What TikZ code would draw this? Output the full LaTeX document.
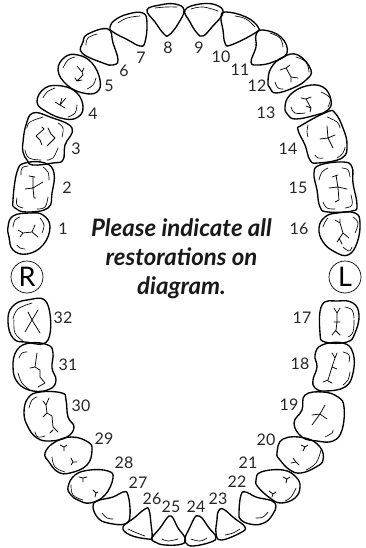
\documentclass[tikz,border=0pt]{standalone}
\usepackage{fontspec}
\setmainfont{Lato}
\newcommand{\tooth}[1]{\draw[toothline] plot[smooth cycle,tension=.72] coordinates {#1};}
\newcommand{\groove}[1]{\draw[grooveline] plot[smooth,tension=.7] coordinates {#1};}
\newcommand{\fis}[1]{\draw[fissure] #1;}
\tikzset{
 toothline/.style={line width=1.35pt,line join=round,black},
 grooveline/.style={line width=.65pt,line cap=round,black},
 fissure/.style={line width=.75pt,line cap=round,line join=round,black},
 num/.style={font=\fontsize{16}{16}\selectfont,text=black!85,inner sep=0pt},
 side/.style={circle,draw,line width=.7pt,minimum size=32pt,inner sep=0pt,font=\fontsize{27}{27}\selectfont},
 note/.style={font=\fontsize{24}{29}\selectfont\bfseries\itshape,inner sep=0pt,align=center,text=black!90}
}
\begin{document}
\begin{tikzpicture}[x=1pt,y=-1pt]
\useasboundingbox (0,0) rectangle (366,548);
\tooth{(147,10)(160,5)(175,4)(184,10)(178,24)(169,35)(164,34)(155,22)}
\groove{(155,8)(166,7)(177,7)}
\tooth{(185,10)(200,4)(216,5)(223,13)(212,27)(203,36)(197,33)(190,22)}
\groove{(191,9)(203,7)(218,11)}
\tooth{(110,27)(115,20)(128,14)(143,13)(147,23)(145,42)(140,46)(128,40)(113,32)}
\groove{(118,23)(127,18)(140,16)}
\tooth{(221,17)(226,12)(246,17)(258,27)(255,33)(231,45)(225,43)(223,30)}
\groove{(235,16)(246,19)(255,27)}
\tooth{(82,53)(83,42)(88,34)(108,29)(113,43)(118,60)(113,65)(103,63)}
\groove{(86,45)(88,38)(97,34)}
\tooth{(251,62)(256,47)(256,35)(263,30)(281,37)(287,53)(273,62)(258,65)}
\groove{(270,33)(280,38)(283,47)}
\tooth{(58,70)(65,57)(78,55)(92,63)(100,80)(97,92)(83,93)(67,85)}
\groove{(63,68)(68,60)(75,57)}\groove{(87,89)(93,85)(96,78)}
\fis{(77,66)--(82,72)--(83,75)--(77,81)--(75,78) (77,81)--(82,80) (82,72)--(84,68)}
\tooth{(268,82)(271,68)(283,57)(298,55)(311,70)(306,80)(293,88)(276,93)(270,88)}
\groove{(275,82)(278,88)(283,89)}\groove{(296,57)(306,62)(309,72)}
\fis{(280,70)--(286,68)--(291,77)--(291,82) (291,77)--(298,78) (286,68)--(290,65)}
\tooth{(37,102)(45,88)(62,86)(77,93)(83,107)(78,117)(65,119)(47,112)}
\groove{(43,98)(47,92)(55,88)}\groove{(68,117)(75,113)(77,105)}
\fis{(55,102)--(60,105)--(65,108) (60,105)--(62,98) (60,105)--(66,98)}
\tooth{(285,107)(290,95)(306,86)(323,87)(331,100)(328,110)(316,115)(296,119)(288,115)}
\groove{(291,107)(295,113)(305,113)}\groove{(321,92)(330,98)(328,107)}
\fis{(301,98)--(306,99)--(311,97) (306,99)--(311,108)--(310,112) (311,108)--(306,106)}
\tooth{(23,142)(26,125)(33,113)(50,117)(72,128)(65,145)(63,160)(53,163)(33,165)(27,160)(23,152)}
\groove{(27,128)(30,122)(43,117)}\groove{(58,123)(63,128)(62,137)}
\groove{(25,150)(29,158)(41,160)}\groove{(47,160)(53,158)(58,148)}
\fis{(36,136)--(44,129) (36,136)--(40,140)--(42,145) (48,128)--(51,134)--(55,138)--(47,146) (44,129)--(42,127)}
\tooth{(298,130)(305,145)(310,160)(318,163)(342,158)(347,145)(343,128)(335,113)(327,112)(302,125)}
\groove{(308,125)(307,132)(308,137)}\groove{(327,117)(337,122)(340,128)}
\groove{(315,155)(318,158)(323,158)}\groove{(337,158)(343,153)(345,147)}
\fis{(327,126)--(328,138)--(335,135) (328,138)--(320,139) (328,138)--(333,148)}
\tooth{(13,200)(17,172)(25,163)(45,163)(54,173)(52,193)(48,208)(27,212)(15,208)}
\groove{(21,175)(22,168)(28,166)}\groove{(43,167)(48,172)(49,180)}
\groove{(17,198)(17,205)(23,208)}\groove{(37,209)(45,207)(48,197)}
\fis{(29,176)--(35,177) (33,177)--(33,188)--(34,198)--(36,198) (25,189)--(33,188)--(43,182)}
\tooth{(314,173)(320,165)(343,162)(352,167)(353,183)(357,205)(352,211)(328,212)(320,207)(317,190)}
\groove{(319,180)(322,172)(328,168)}\groove{(342,168)(348,170)(350,177)}
\groove{(323,202)(327,208)(335,209)}\groove{(345,208)(352,205)(351,195)}
\fis{(332,177)--(338,175) (336,175)--(338,188)--(339,200)--(335,202) (329,188)--(338,187)--(347,189)}
\tooth{(8,227)(13,216)(30,213)(43,215)(50,227)(43,245)(27,254)(13,250)(9,237)}
\groove{(13,227)(15,220)(20,217)}\groove{(40,218)(44,225)(42,233)}\groove{(17,245)(20,248)(25,249)}
\fis{(18,230)--(23,233)--(20,237) (23,233)--(32,232)--(35,225) (32,232)--(38,237)}
\tooth{(319,228)(325,217)(337,213)(355,213)(360,223)(357,243)(348,255)(335,252)(323,242)}
\groove{(323,227)(325,222)(328,218)}\groove{(353,217)(358,223)(355,233)}\groove{(343,247)(349,251)(352,247)}
\fis{(335,220)--(340,223)--(343,233)--(337,242) (340,223)--(340,219) (343,233)--(349,238) (339,238)--(342,244)}
\node[side] (R) at (27,277) {R};
\node[side] (L) at (345,277) {L};
\tooth{(8,322)(12,307)(27,300)(47,303)(48,340)(25,342)(13,338)}
\groove{(13,319)(18,309)(32,303)}\groove{(14,320)(15,333)(23,341)}
\fis{(38,310)--(32,320)--(25,332) (28,312)--(32,320)--(40,333)}
\tooth{(320,333)(322,305)(338,301)(353,303)(359,315)(355,333)(347,342)(325,342)}
\groove{(345,307)(352,310)(354,318)}\groove{(348,337)(353,332)(354,320)}
\fis{(334,308)--(337,313)--(337,322)--(336,330)--(332,335) (340,308)--(337,313) (334,322)--(340,322) (336,331)--(340,335)}
\tooth{(13,367)(17,350)(30,343)(48,345)(53,353)(52,368)(56,380)(50,389)(33,391)(18,383)}
\groove{(19,358)(22,353)(27,352)}\groove{(18,373)(22,383)(30,390)}
\fis{(37,353)--(35,367)--(40,370)--(40,377)--(45,383)--(38,387) (30,368)--(35,367)}
\tooth{(313,380)(317,367)(315,355)(322,345)(343,343)(353,353)(353,373)(345,387)(325,391)(315,388)}
\groove{(343,352)(349,355)(349,362)}\groove{(343,385)(348,380)(350,372)}
\fis{(332,353)--(335,358)--(332,367)--(328,380)--(323,382) (335,358)--(337,353) (332,367)--(337,369) (328,381)--(332,383)}
\tooth{(24,413)(28,398)(40,392)(62,393)(66,400)(68,417)(74,427)(67,437)(50,441)(37,438)(28,427)}
\groove{(29,408)(32,400)(37,397)}\groove{(35,432)(38,437)(45,436)}
\fis{(43,401)--(46,405)--(49,398) (46,405)--(47,413)--(43,417) (47,413)--(52,416)--(53,427)--(58,432) (53,430)--(50,433)}
\tooth{(294,423)(302,410)(305,395)(323,392)(338,397)(344,407)(342,430)(333,441)(317,441)(302,437)}
\groove{(325,437)(332,433)(333,430)}
\fis{(312,415)--(320,414)--(325,405) (320,414)--(312,425) (320,414)--(327,419)}
\tooth{(45,453)(55,442)(72,437)(88,442)(92,450)(87,465)(70,473)(58,472)(49,462)}
\groove{(52,457)(55,467)(65,472)}
\fis{(60,445)--(64,447)--(67,445) (64,447)--(64,451) (71,458)--(73,462)--(71,465) (73,462)--(77,462)}
\tooth{(277,453)(283,439)(305,438)(320,447)(323,460)(316,467)(301,473)(290,470)(280,460)}
\groove{(306,470)(316,463)(321,450)}
\fis{(301,445)--(305,447)--(308,445) (305,447)--(303,451) (291,463)--(296,462)--(293,458) (296,462)--(299,465)}
\tooth{(68,487)(75,475)(90,470)(108,471)(113,478)(105,495)(90,503)(78,500)(71,495)}
\groove{(71,485)(73,495)(83,500)}
\fis{(79,477)--(83,478)--(87,477) (83,478)--(83,482) (93,490)--(96,493)--(98,492) (96,493)--(95,497)}
\tooth{(256,480)(261,472)(283,470)(296,477)(300,487)(295,498)(281,503)(270,498)(258,487)}
\groove{(285,501)(291,497)(296,488)}
\fis{(283,477)--(287,479)--(290,477) (287,479)--(286,483) (269,491)--(273,494)--(276,492) (273,494)--(272,497)}
\tooth{(93,507)(97,501)(113,497)(123,492)(128,495)(130,515)(125,524)(108,523)(98,518)}
\groove{(102,513)(107,518)(113,519)}
\tooth{(239,513)(241,495)(246,492)(256,497)(275,503)(271,517)(261,524)(250,524)(241,520)}
\groove{(256,518)(263,517)(268,512)}
\tooth{(123,527)(134,518)(145,509)(149,510)(151,524)(152,537)(148,539)(130,535)}
\groove{(128,529)(137,533)(145,536)}
\tooth{(216,533)(217,520)(218,512)(223,509)(234,518)(245,527)(240,533)(221,540)}
\groove{(225,535)(233,533)(240,529)}
\tooth{(152,538)(160,528)(167,518)(170,516)(173,518)(178,528)(185,538)(182,544)(165,545)(155,542)}
\groove{(162,539)(168,541)(178,539)}
\tooth{(185,538)(190,527)(195,517)(198,516)(202,518)(209,528)(216,537)(211,542)(193,546)(186,543)}
\groove{(191,539)(200,541)(207,538)}
\node[num] (n1) at (63,229) {1};
\node[num] (n2) at (67,188) {2};
\node[num] (n3) at (76,149) {3};
\node[num] (n4) at (93,114) {4};
\node[num] (n5) at (109,86) {5};
\node[num] (n6) at (124,71) {6};
\node[num] (n7) at (141,58) {7};
\node[num] (n8) at (168,48) {8};
\node[num] (n9) at (199,48) {9};
\node[num] (n10) at (221,57) {10};
\node[num] (n11) at (240,70) {11};
\node[num] (n12) at (257,86) {12};
\node[num] (n13) at (266,113) {13};
\node[num] (n14) at (288,149) {14};
\node[num] (n15) at (298,188) {15};
\node[num] (n16) at (299,229) {16};
\node[num] (n17) at (302,318) {17};
\node[num] (n18) at (300,364) {18};
\node[num] (n19) at (289,405) {19};
\node[num] (n20) at (266,440) {20};
\node[num] (n21) at (248,463) {21};
\node[num] (n22) at (237,482) {22};
\node[num] (n23) at (218,499) {23};
\node[num] (n24) at (196,507) {24};
\node[num] (n25) at (171,507) {25};
\node[num] (n26) at (152,499) {26};
\node[num] (n27) at (138,483) {27};
\node[num] (n28) at (124,463) {28};
\node[num] (n29) at (104,439) {29};
\node[num] (n30) at (81,406) {30};
\node[num] (n31) at (68,365) {31};
\node[num] (n32) at (63,318) {32};
\node[note] (msg) at (181.5,259) {Please indicate all\\restorations on\\diagram.};
\end{tikzpicture}
\end{document}
